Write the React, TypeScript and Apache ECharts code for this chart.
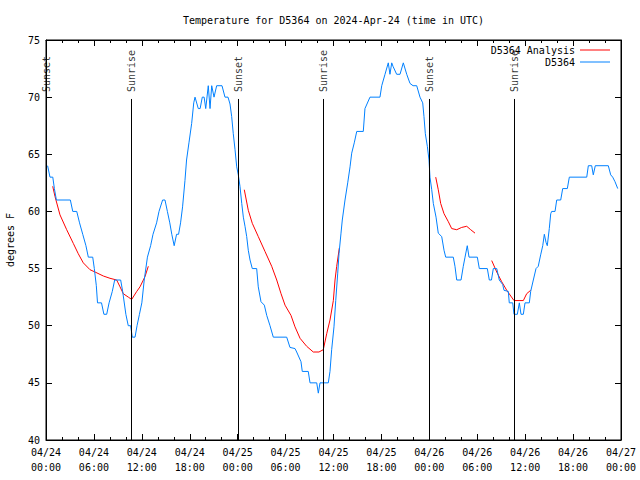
import React, { useEffect, useRef } from "react";
import * as echarts from "echarts";

const titleText = "Temperature for D5364 on 2024-Apr-24 (time in UTC)";
const yAxisName = "degrees F";
const xTickLabels = [
  "04/24\n00:00", "04/24\n06:00", "04/24\n12:00", "04/24\n18:00",
  "04/25\n00:00", "04/25\n06:00", "04/25\n12:00", "04/25\n18:00",
  "04/26\n00:00", "04/26\n06:00", "04/26\n12:00", "04/26\n18:00",
  "04/27\n00:00",
];

// hours since 2024-04-24 00:00 UTC, degrees F
const observed: [number, number][] = [
  [0.2,64],[0.5,63],[0.85,63],[1.05,62],[1.3,61],[3.05,61],[3.35,60],[3.85,60],[4.2,59],[4.6,58],[5.0,57],[5.3,56],[5.85,56],[6.05,55],[6.3,53.5],[6.45,52],[6.95,52],[7.25,51],[7.6,51],[7.9,52],[8.3,53],[8.6,54],[9.35,54],[9.6,53],[10.0,51],[10.3,50],[10.6,50],[10.8,49],[11.15,49],[11.4,50],[11.7,51],[12.0,52],[12.3,54],[12.7,56],[13.1,57],[13.4,58],[13.85,59],[14.15,60],[14.6,61],[14.9,61],[15.2,60],[15.5,59],[15.75,58],[16.05,57],[16.35,58],[16.6,58],[16.85,59],[17.1,60.4],[17.4,62.7],[17.6,64.5],[17.9,66],[18.24,67.7],[18.5,69.5],[18.66,70],[19.07,69],[19.3,69],[19.57,70],[19.8,70],[20.0,69],[20.32,71],[20.54,69],[20.75,71],[21.04,70],[21.37,71],[22.04,71],[22.41,70],[22.79,70],[23.04,69.4],[23.25,68.3],[23.45,66.8],[23.67,65.4],[23.88,63.9],[24.08,63.2],[24.29,62.2],[24.51,60.7],[24.71,59.5],[24.92,58.7],[25.13,57.8],[25.33,56.6],[25.55,55.75],[25.83,55],[26.38,55],[26.58,53.4],[26.92,52.1],[27.34,51.8],[27.64,50.9],[28.05,50],[28.46,49],[30.14,49],[30.55,48.1],[31.18,48],[31.39,47.7],[31.93,46.85],[32.09,46],[32.84,46],[33.06,45],[33.9,45],[34.1,44.1],[34.31,45],[35.35,45],[35.56,46],[35.77,47.9],[36.06,49.9],[36.28,52.2],[36.53,54.6],[36.69,56.3],[36.94,58.1],[37.1,59.25],[37.44,61],[37.78,62.5],[38.07,63.9],[38.28,65.1],[38.6,66],[38.91,67],[39.73,67],[39.94,69],[40.57,70],[41.82,70],[42.04,71],[42.45,72],[42.86,73],[43.07,72],[43.29,73],[43.45,72.7],[43.91,72],[44.33,72],[44.74,73],[45.17,72],[45.58,71.2],[45.96,71],[46.42,71],[46.83,70],[47.17,69.5],[47.33,68.3],[47.5,66.8],[47.75,65.7],[47.96,64.5],[48.08,63],[48.3,61.9],[48.5,60.7],[48.84,59.5],[49.12,58.1],[49.55,57.8],[49.84,56.6],[50.05,56],[51.0,56],[51.21,55.2],[51.43,54],[51.97,54],[52.25,55.2],[52.47,56],[52.75,57],[52.97,56],[54.01,56],[54.26,55],[55.26,55],[55.51,54],[55.78,54],[56.01,55],[56.44,55],[56.76,54],[57.19,53.6],[57.35,53.1],[57.89,53],[58.01,52],[58.44,52],[58.6,51],[59.02,51],[59.27,52],[59.48,51],[59.77,51],[59.98,52],[60.52,52],[60.69,53],[61.02,54],[61.36,55],[61.64,55.2],[61.94,56.2],[62.2,57],[62.4,58],[62.61,57.3],[62.77,57],[63.02,58.5],[63.2,59.8],[63.32,60],[63.74,60],[63.95,61],[64.45,61],[64.7,62],[65.28,62],[65.53,63],[67.71,63],[67.91,64],[68.33,64],[68.53,63.2],[68.78,64],[70.41,64],[70.71,63.2],[70.96,63],[71.25,62.6],[71.59,62],
];

const analysis1: [number, number][] = [
  [0.84,62.2],[1.13,61.3],[1.75,59.7],[2.59,58.4],[3.42,57.2],[4.04,56.3],[4.67,55.5],[5.51,54.9],[6.14,54.7],[7.18,54.35],[8.01,54.15],[8.85,54.0],[9.27,53.4],[9.68,52.8],[10.31,52.5],[10.73,52.3],[11.36,53.0],[11.77,53.4],[12.4,54.3],[12.81,55.2],
];
const analysis2: [number, number][] = [
  [24.83,61.9],[25.33,60.1],[25.83,58.96],[26.58,57.8],[27.42,56.5],[28.26,55.2],[28.89,54.0],[29.43,52.8],[29.93,51.8],[30.68,50.9],[31.18,49.9],[31.81,48.9],[32.64,48.2],[33.47,47.7],[34.18,47.7],[34.72,47.9],[35.15,49.3],[35.56,50.5],[35.98,52.2],[36.19,54],[36.4,55.2],[36.73,56.8],
];
const analysis3: [number, number][] = [
  [48.8,63.0],[49.12,61.9],[49.42,60.7],[49.84,59.8],[50.38,59.1],[50.8,58.5],[51.43,58.4],[52.05,58.6],[52.68,58.7],[53.18,58.4],[53.72,58.1],
];
const analysis4: [number, number][] = [
  [55.81,55.7],[56.44,54.7],[57.06,53.85],[57.69,53.1],[58.6,52.2],[59.35,52.2],[59.77,52.2],[60.19,52.8],[60.69,53.1],
];

const sunTimes = [0.05, 10.7, 24.08, 34.73, 48.0, 58.65];
const sunNames = ["Sunset", "Sunrise", "Sunset", "Sunrise", "Sunset", "Sunrise"];
const sunLineBottom = 40;
const sunLineTop = 69.84;
const sunLabelAnchor = 70.45;

const FONT = "DejaVu Sans Mono";

export default function App() {
  const ref = useRef<HTMLDivElement>(null);
  useEffect(() => {
    if (!ref.current) return;
    const chart = echarts.init(ref.current, undefined, { renderer: "svg" });
    const analysisSeries = [analysis1, analysis2, analysis3, analysis4].map((seg) => ({
      name: "D5364 Analysis",
      type: "line",
      data: seg,
      symbol: "none",
      showSymbol: false,
      lineStyle: { color: "#ff0000", width: 1 },
      itemStyle: { color: "#ff0000" },
      xAxisIndex: 0,
      yAxisIndex: 0,
      z: 2,
    }));
    const xCommon = {
      type: "value",
      min: 0,
      max: 72,
      interval: 6,
      splitLine: { show: false },
      axisLine: { show: true, onZero: false, lineStyle: { color: "#000", width: 1 } },
      axisTick: { show: true, inside: true, length: 6, lineStyle: { color: "#000" } },
      minorTick: { show: true, splitNumber: 3, length: 3, lineStyle: { color: "#000" } },
    };
    const yCommon = {
      type: "value",
      min: 40,
      max: 75,
      interval: 5,
      splitLine: { show: false },
      axisLine: { show: true, onZero: false, lineStyle: { color: "#000", width: 1 } },
      axisTick: { show: true, inside: true, length: 6, lineStyle: { color: "#000" } },
    };
    chart.setOption({
      animation: false,
      backgroundColor: "#ffffff",
      textStyle: { fontFamily: FONT },
      title: {
        text: titleText,
        left: 178,
        top: 10,
        textStyle: { fontFamily: FONT, fontSize: 10, fontWeight: "normal", color: "#000" },
      },
      legend: {
        data: ["D5364 Analysis", "D5364"],
        orient: "vertical",
        right: 30,
        top: 45,
        align: "right",
        itemWidth: 30,
        itemHeight: 1,
        itemGap: 2,
        icon: "rect",
        textStyle: { fontFamily: FONT, fontSize: 10, color: "#000", padding: [0, 0, 0, 0] },
        padding: 0,
      },
      grid: {
        left: 46,
        right: 19,
        top: 40,
        bottom: 40,
        containLabel: false,
        outerBoundsMode: "none",
        show: true,
        borderColor: "#000",
        borderWidth: 1,
      },
      xAxis: [
        {
          ...xCommon,
          position: "bottom",
          axisLabel: {
            show: true,
            color: "#000",
            fontFamily: FONT,
            fontSize: 10,
            lineHeight: 15,
            margin: 5,
            formatter: (v: number) => xTickLabels[Math.round(v / 6)] ?? "",
          },
        },
        { ...xCommon, position: "top", axisLabel: { show: false } },
      ],
      yAxis: [
        {
          ...yCommon,
          position: "left",
          name: yAxisName,
          nameLocation: "middle",
          nameGap: 31,
          nameTextStyle: { fontFamily: FONT, fontSize: 10, color: "#000" },
          axisLabel: { color: "#000", fontFamily: FONT, fontSize: 10, margin: 6 },
        },
        { ...yCommon, position: "right", axisLabel: { show: false } },
      ],
      series: [
        ...analysisSeries,
        {
          name: "D5364",
          type: "line",
          data: observed,
          symbol: "none",
          showSymbol: false,
          lineStyle: { color: "#0080ff", width: 1 },
          itemStyle: { color: "#0080ff" },
          z: 3,
        },
        {
          name: "sun",
          type: "scatter",
          data: sunTimes.map((t, i) => ({ value: [t, sunLabelAnchor], name: sunNames[i] })),
          symbol: "circle",
          symbolSize: 1,
          itemStyle: { color: "rgba(0,0,0,0)" },
          label: {
            show: true,
            formatter: (p: any) => p.name,
            position: "inside",
            rotate: 90,
            align: "left",
            verticalAlign: "middle",
            fontFamily: FONT,
            fontSize: 10,
            color: "#000",
          },
          silent: true,
          z: 4,
          markLine: {
            silent: true,
            symbol: ["none", "none"],
            label: { show: false },
            lineStyle: { color: "#000", width: 1, type: "solid" },
            data: sunTimes.map((t) => [
              { coord: [t, sunLineBottom] },
              { coord: [t, sunLineTop] },
            ]),
          },
        },
      ],
    });
    return () => chart.dispose();
  }, []);
  return <div ref={ref} style={{ width: 640, height: 480, position: "absolute", left: 0, top: 0 }} />;
}
